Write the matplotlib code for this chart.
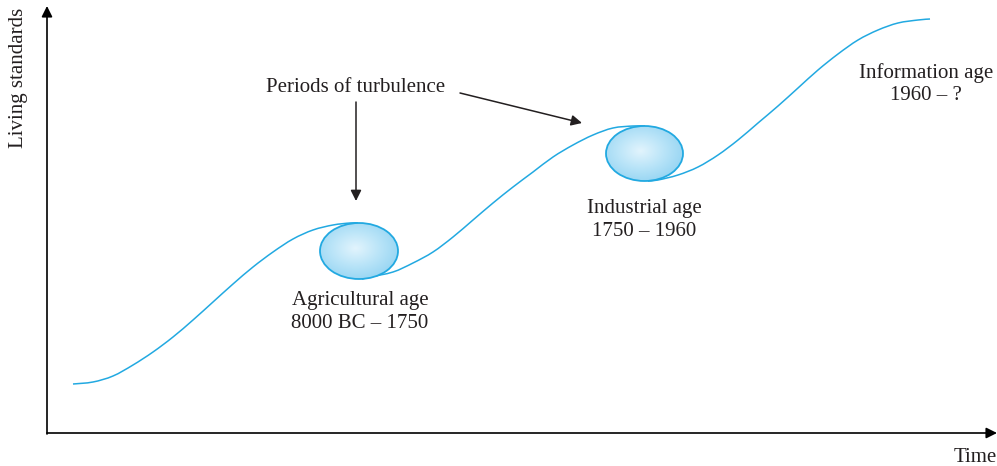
import numpy as np
import matplotlib
matplotlib.use("Agg")
import matplotlib.pyplot as plt
from matplotlib.patches import Ellipse, PathPatch
from matplotlib.path import Path
from matplotlib.colors import LinearSegmentedColormap

plt.rcParams['font.family'] = ['Liberation Serif', 'DejaVu Serif']

# curve (x = time, y = level, pixel-like units, y down),
# in three visible stretches: before, between and after the turbulence periods
seg1_x = [73, 93, 113, 133, 153, 173, 193, 213, 233, 253, 273, 293, 313, 333, 350, 358]
seg1_y = [384, 382, 376, 365, 352, 337, 320, 302, 284, 267, 252, 239, 230, 225, 223, 223]
seg2_x = [362, 370, 393, 413, 433, 453, 473, 493, 513, 533, 553, 573, 593, 613, 633, 645]
seg2_y = [279, 277, 272, 263, 252, 237, 220, 203, 187, 172, 157, 145, 135, 128, 126, 126]
seg3_x = [648, 658, 678, 698, 718, 738, 758, 778, 798, 818, 838, 858, 878, 898, 918, 930]
seg3_y = [181, 180, 175, 167, 155, 140, 123, 106, 88, 70, 54, 40, 30, 23, 20, 19]

# turbulence periods (centre x, centre y, width, height)
turb_x = [359, 644.5]
turb_y = [251, 153.5]
turb_w = [78, 77]
turb_h = [56, 55]

ages = ["Agricultural age\n8000 BC \u2013 1750",
        "Industrial age\n1750 \u2013 1960",
        "Information age\n1960 \u2013 ?"]
age_x = [360, 644, 926]
age_y = [312, 220, 84]

blue = '#22a9e1'
ink = '#231f20'


def smooth_path(xs, ys):
    # draw the read points as a smooth line (Catmull-Rom as cubic Beziers)
    p = np.column_stack([xs, ys]).astype(float)
    verts = [p[0]]
    codes = [Path.MOVETO]
    n = len(p)
    for i in range(n - 1):
        p0 = p[i - 1] if i > 0 else p[i]
        p3 = p[i + 2] if i + 2 < n else p[i + 1]
        c1 = p[i] + (p[i + 1] - p0) / 6
        c2 = p[i + 1] - (p3 - p[i]) / 6
        verts += [c1, c2, p[i + 1]]
        codes += [Path.CURVE4] * 3
    return Path(verts, codes)


fig = plt.figure(figsize=(9.97, 4.66), dpi=100)
ax = fig.add_axes([0, 0, 1, 1])

# axes with arrows
ax.annotate('', xy=(47, 6), xytext=(47, 434),
            arrowprops=dict(arrowstyle='-|>', color='black', lw=1.2,
                            mutation_scale=16, shrinkA=0, shrinkB=0))
ax.annotate('', xy=(997, 433), xytext=(47, 433),
            arrowprops=dict(arrowstyle='-|>', color='black', lw=1.2,
                            mutation_scale=16, shrinkA=0, shrinkB=0))
ax.text(19, 78, "Living standards", rotation=90, ha='center', va='center',
        fontsize=15, color=ink)
ax.text(975, 457, "Time", ha='center', va='center', fontsize=15, color=ink)

for xs, ys in [(seg1_x, seg1_y), (seg2_x, seg2_y), (seg3_x, seg3_y)]:
    ax.add_patch(PathPatch(smooth_path(xs, ys), facecolor='none',
                           edgecolor=blue, lw=1.1, zorder=2))

cmap = LinearSegmentedColormap.from_list('bub', ['#e2f4fd', '#b9e4f8', '#92d3f2'])
for cx, cy, w, h in zip(turb_x, turb_y, turb_w, turb_h):
    e = Ellipse((cx, cy), w, h, facecolor='none', edgecolor=blue, lw=1.3, zorder=4)
    ax.add_patch(e)
    gx, gy = np.meshgrid(np.linspace(-1, 1, 120), np.linspace(-1, 1, 120))
    r = np.sqrt((gx + 0.1) ** 2 + (gy + 0.1) ** 2)
    im = ax.imshow(r, cmap=cmap, vmin=0, vmax=1.25,
                   extent=(cx - w / 2, cx + w / 2, cy + h / 2, cy - h / 2),
                   zorder=3, interpolation='bilinear')
    im.set_clip_path(e)

for t, x, y in zip(ages, age_x, age_y):
    ax.text(x, y, t, ha='center', va='center', fontsize=15, linespacing=1.22,
            color=ink)

ax.text(356, 87, "Periods of turbulence", ha='center', va='center', fontsize=15,
        color=ink)
ax.annotate('', xy=(356, 201), xytext=(356, 102),
            arrowprops=dict(arrowstyle='-|>', color=ink, lw=1.1,
                            mutation_scale=16, shrinkA=0, shrinkB=0))
ax.annotate('', xy=(582, 123), xytext=(460, 93),
            arrowprops=dict(arrowstyle='-|>', color=ink, lw=1.1,
                            mutation_scale=16, shrinkA=0, shrinkB=0))

ax.set_xlim(0, 997)
ax.set_ylim(466, 0)
ax.set_aspect('auto')
ax.axis('off')

fig.savefig('out.png', dpi=100)
